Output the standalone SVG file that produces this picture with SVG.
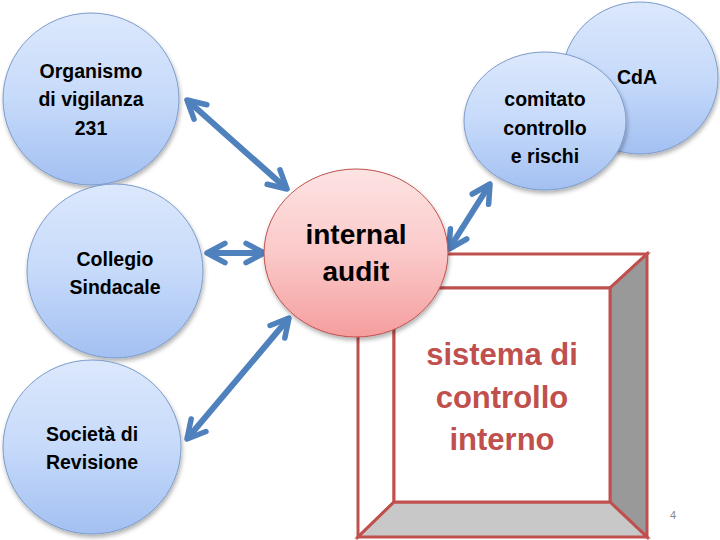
<svg xmlns="http://www.w3.org/2000/svg" width="720" height="540" viewBox="0 0 720 540">
<defs>
<linearGradient id="gBlue" x1="0" y1="0" x2="0" y2="1">
<stop offset="0" stop-color="#dce8fc"/><stop offset="0.5" stop-color="#c6dafa"/><stop offset="1" stop-color="#a3c0f2"/>
</linearGradient>
<linearGradient id="gPink" x1="0" y1="0" x2="0" y2="1">
<stop offset="0" stop-color="#fde3e3"/><stop offset="0.5" stop-color="#fbc9c9"/><stop offset="1" stop-color="#f59e9e"/>
</linearGradient>
<filter id="sh" x="-10%" y="-10%" width="130%" height="130%">
<feDropShadow dx="1" dy="3" stdDeviation="2" flood-color="#000" flood-opacity="0.3"/>
</filter>
<marker id="ah" viewBox="0 0 10 10" markerWidth="4.6" markerHeight="4.6" refX="8.5" refY="5" orient="auto-start-reverse" markerUnits="strokeWidth">
<path d="M2,1.5 L8.5,5 L2,8.5" fill="none" stroke="#4f81bd" stroke-width="2" stroke-linecap="round" stroke-linejoin="round"/>
</marker>
<style>
.blue{fill:url(#gBlue);stroke:#7b9bcb;stroke-width:1;filter:url(#sh)}
.pink{fill:url(#gPink);stroke:#c0504d;stroke-width:1;filter:url(#sh)}
.t{font-family:"Liberation Sans",Arial,sans-serif;font-weight:bold;font-size:19.5px;fill:#000;text-anchor:middle}
.big{font-size:28px}
.red{font-family:"Liberation Sans",Arial,sans-serif;font-weight:bold;font-size:31px;fill:#c0504d;text-anchor:middle}
.con{fill:none;stroke:#4f81bd;stroke-width:6;marker-start:url(#ah);marker-end:url(#ah)}
.box{stroke:#c0504d;stroke-width:3;stroke-linejoin:miter}
</style>
</defs>
<rect width="720" height="540" fill="#fff"/>

<g id="sistema">
<polygon class="box" points="358,254 647,254 610,288 394,288" fill="#fff"/>
<polygon class="box" points="358,254 394,288 394,502 358,537" fill="#fff"/>
<polygon class="box" points="647,254 647,537 610,502 610,288" fill="#999"/>
<polygon class="box" points="394,502 610,502 647,537 358,537" fill="#c8c8c8"/>
<rect class="box" x="394" y="288" width="216" height="214" fill="#fff"/>
<text class="red" x="502" y="365">sistema di</text>
<text class="red" x="502" y="408">controllo</text>
<text class="red" x="502" y="450">interno</text>
</g>

<g id="connectors">
<line class="con" x1="187" y1="100" x2="287" y2="189"/>
<line class="con" x1="207" y1="253" x2="264" y2="253"/>
<line class="con" x1="187" y1="439" x2="289" y2="318"/>
<line class="con" x1="449" y1="249" x2="490" y2="184"/>
</g>

<g id="cda">
<ellipse class="blue" cx="640" cy="78" rx="78" ry="76"/>
<text class="t" x="637" y="84">CdA</text>
</g>

<g id="comitato">
<ellipse class="blue" cx="545" cy="121" rx="81" ry="69"/>
<text class="t" x="545" y="106">comitato</text>
<text class="t" x="545" y="135">controllo</text>
<text class="t" x="545" y="163">e rischi</text>
</g>

<g id="organismo">
<ellipse class="blue" cx="91" cy="99" rx="88" ry="86"/>
<text class="t" x="91" y="78">Organismo</text>
<text class="t" x="91" y="106">di vigilanza</text>
<text class="t" x="91" y="135">231</text>
</g>

<g id="collegio">
<ellipse class="blue" cx="115" cy="271" rx="88" ry="87"/>
<text class="t" x="115" y="266">Collegio</text>
<text class="t" x="115" y="294">Sindacale</text>
</g>

<g id="societa">
<ellipse class="blue" cx="92" cy="447" rx="89" ry="87"/>
<text class="t" x="92" y="441">Società di</text>
<text class="t" x="92" y="469">Revisione</text>
</g>

<g id="audit">
<ellipse class="pink" cx="356" cy="253" rx="92" ry="84"/>
<text class="t big" x="356" y="244">internal</text>
<text class="t big" x="356" y="281">audit</text>
</g>

<text x="673" y="519" font-family="Liberation Sans,Arial,sans-serif" font-size="11" fill="#888" text-anchor="middle">4</text>
</svg>
